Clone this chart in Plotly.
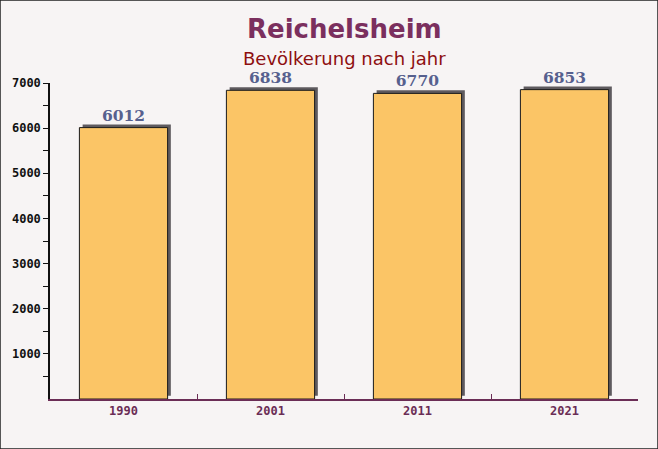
import plotly.graph_objects as go

years = ["1990", "2001", "2011", "2021"]
population = [6012, 6838, 6770, 6853]
y_ticks = [1000, 2000, 3000, 4000, 5000, 6000, 7000]
y_minor = [500, 1500, 2500, 3500, 4500, 5500, 6500]

title = "Reichelsheim"
subtitle = "Bevölkerung nach jahr"

bar_w = 0.6
shadow_lift = 70  # value units, ~3px

fig = go.Figure()
# shadow
fig.add_trace(go.Bar(
    x=years, y=population, base=shadow_lift,
    width=bar_w, offset=-bar_w / 2 + 0.022,
    marker=dict(color="#5e5a5e", line=dict(width=0)),
    hoverinfo="skip", showlegend=False,
))
# main bars
fig.add_trace(go.Bar(
    x=years, y=population,
    width=bar_w, offset=-bar_w / 2,
    marker=dict(color="#fbc566", line=dict(color="#1a1a1a", width=1)),
    text=[str(v) for v in population], textposition="outside",
    textfont=dict(family="DejaVu Serif", size=15.5, color="#56608e", weight="bold"),
    cliponaxis=False, showlegend=False,
))

fig.update_layout(
    width=658, height=449,
    barmode="overlay",
    paper_bgcolor="#f7f4f4",
    plot_bgcolor="rgba(0,0,0,0)",
    margin=dict(l=50, r=20, t=83, b=50),
    shapes=[dict(type="rect", xref="paper", yref="paper", x0=-50/588, x1=1+20/588,
                 y0=-50/316, y1=1+83/316, line=dict(color="#222222", width=1.5),
                 fillcolor="rgba(0,0,0,0)", layer="below")],
)

fig.add_annotation(text="<b>" + title + "</b>", xref="paper", yref="paper",
                   x=0.5, y=1 + 54/316, showarrow=False,
                   font=dict(family="DejaVu Sans", size=26, color="#7b2f5e"),
                   xanchor="center", yanchor="middle")
fig.add_annotation(text=subtitle, xref="paper", yref="paper",
                   x=0.5, y=1 + 24.5/316, showarrow=False,
                   font=dict(family="DejaVu Sans", size=18, color="#8e0f10"),
                   xanchor="center", yanchor="middle")

fig.update_xaxes(
    type="category", showgrid=False, zeroline=False,
    showline=True, linecolor="#6b2d55", linewidth=1.5,
    ticks="inside", ticklen=5, tickcolor="#6b2d55", tickson="boundaries",
    tickfont=dict(family="DejaVu Sans Mono", size=12, color="#6b2d55", weight="bold"),
    range=[-0.5, 3.5],
)
fig.update_yaxes(
    range=[0, 7000], showgrid=False, zeroline=False,
    showline=True, linecolor="#111111", linewidth=1.5,
    tickvals=y_ticks, ticks="outside", ticklen=5, tickcolor="#111111",
    tickfont=dict(family="DejaVu Sans Mono", size=12, color="#111111", weight="bold"),
    minor=dict(tickvals=y_minor, ticks="outside", ticklen=5, tickcolor="#111111"),
)

fig.write_html("out.html")
